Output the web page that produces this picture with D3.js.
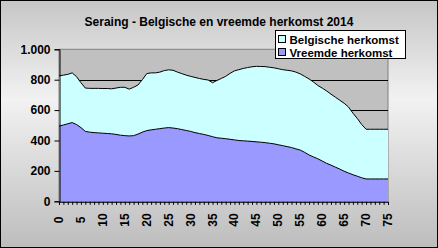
<!DOCTYPE html>
<html>
<head>
<meta charset="utf-8">
<script src="https://cdn.jsdelivr.net/npm/d3@7"></script>
<style>
  body { margin: 0; }
  svg { display: block; font-family: "Liberation Sans", Arial, sans-serif; }
</style>
</head>
<body>
<div id="chart"></div>
<script>
// Age categories 0..75
const ages = d3.range(0, 76);

// Foreign origin (bottom series)
const vreemde = [
  495, 502, 510, 518, 505, 485, 460, 455, 452, 450,
  448, 446, 444, 440, 435, 432, 430, 432, 442, 455,
  465, 470, 474, 478, 482, 485, 482, 478, 472, 466,
  460, 452, 446, 440, 433, 425, 418, 415, 412, 408,
  404, 400, 398, 396, 394, 391, 389, 386, 382, 378,
  372, 366, 360, 354, 345, 337, 322, 305, 292, 280,
  265, 250, 238, 225, 212, 198, 186, 175, 165, 155,
  147, 147, 147, 147, 147, 147
];

// Belgian origin (stacked on top)
const belgische = [
  330, 328, 325, 327, 315, 295, 285, 288, 291, 293,
  294, 296, 296, 305, 315, 318, 308, 318, 323, 345,
  375, 375, 371, 372, 378, 380, 380, 372, 368, 364,
  362, 363, 362, 362, 365, 355, 377, 393, 410, 434,
  454, 466, 476, 484, 491, 497, 498, 500, 500, 500,
  500, 500, 502, 504, 505, 501, 500, 500, 493, 482,
  480, 476, 467, 460, 453, 447, 434, 405, 380, 350,
  327, 327, 327, 327, 327, 327
];

const yTicks = [0, 200, 400, 600, 800, 1000];
const xLabels = d3.range(0, 76, 5);

const seriesNames = ["Belgische herkomst", "Vreemde herkomst"];
const colors = { "Belgische herkomst": "#CCFFFF", "Vreemde herkomst": "#9999FF" };

const width = 438, height = 248;
const plot = { left: 59, right: 388, top: 49.3, bottom: 201.3 };

const svg = d3.select("#chart").append("svg")
  .attr("width", width)
  .attr("height", height);

// Background gradient
const grad = svg.append("defs").append("linearGradient")
  .attr("id", "bg").attr("x1", 0).attr("y1", 0).attr("x2", 0).attr("y2", 1);
grad.append("stop").attr("offset", "0%").attr("stop-color", "#c6c6c6");
grad.append("stop").attr("offset", "40%").attr("stop-color", "#f2f2f2");
grad.append("stop").attr("offset", "100%").attr("stop-color", "#bdbdbd");

svg.append("rect")
  .attr("x", 0.5).attr("y", 0.5)
  .attr("width", width - 1).attr("height", height - 1)
  .attr("fill", "url(#bg)")
  .attr("stroke", "#000");

const x = d3.scaleLinear().domain([0, 75]).range([plot.left, plot.right]);
const y = d3.scaleLinear().domain([0, 1000]).range([plot.bottom, plot.top]);

// Plot area
svg.append("rect")
  .attr("x", plot.left).attr("y", plot.top)
  .attr("width", plot.right - plot.left).attr("height", plot.bottom - plot.top)
  .attr("fill", "#c0c0c0")
  .attr("stroke", "#808080");

// Gridlines
svg.append("g").selectAll("line")
  .data(yTicks.filter(d => d > 0 && d < 1000))
  .join("line")
  .attr("x1", plot.left).attr("x2", plot.right)
  .attr("y1", d => Math.round(y(d)) + 0.5).attr("y2", d => Math.round(y(d)) + 0.5)
  .attr("stroke", "#000");

// Stacked areas
const rows = ages.map((a, i) => ({
  age: a,
  "Vreemde herkomst": vreemde[i],
  "Belgische herkomst": belgische[i]
}));
const stack = d3.stack().keys(["Vreemde herkomst", "Belgische herkomst"]);
const layers = stack(rows);

const area = d3.area()
  .x(d => x(d.data.age))
  .y0(d => y(d[0]))
  .y1(d => y(d[1]));
const topLine = d3.line()
  .x(d => x(d.data.age))
  .y(d => y(d[1]));

svg.append("g").selectAll("path")
  .data(layers)
  .join("path")
  .attr("d", area)
  .attr("fill", d => colors[d.key]);

svg.append("g").selectAll("path")
  .data(layers)
  .join("path")
  .attr("d", topLine)
  .attr("fill", "none")
  .attr("stroke", "#000")
  .attr("stroke-width", 1);

// Y axis
const yAxis = svg.append("g")
  .attr("transform", `translate(${plot.left + 0.5},0)`)
  .call(d3.axisLeft(y).tickValues(yTicks).tickSize(5).tickPadding(4)
    .tickFormat(d => d3.format(",")(d).replace(",", ".")));
yAxis.select(".domain").attr("stroke", "#000");
yAxis.selectAll("text")
  .attr("font-size", 12).attr("font-weight", "bold").attr("fill", "#000")
  .attr("font-family", "Liberation Sans, Arial, sans-serif");

// X axis
const xAxis = svg.append("g")
  .attr("transform", `translate(0,${plot.bottom + 0.5})`)
  .call(d3.axisBottom(x).tickValues(ages).tickSize(3).tickFormat(""));
xAxis.select(".domain").attr("stroke", "#000");

svg.append("g").selectAll("text")
  .data(xLabels)
  .join("text")
  .attr("transform", d => `translate(${x(d) + 4},220) rotate(-90)`)
  .attr("text-anchor", "middle")
  .attr("font-size", 12)
  .attr("font-weight", "bold")
  .text(d => d);

// Title
svg.append("text")
  .attr("x", 219).attr("y", 26)
  .attr("text-anchor", "middle")
  .attr("font-size", 12)
  .attr("font-weight", "bold")
  .text("Seraing - Belgische en vreemde herkomst 2014");

// Legend
const legend = svg.append("g").attr("transform", "translate(275.5,30.5)");
legend.append("rect")
  .attr("width", 130).attr("height", 28)
  .attr("fill", "#fff").attr("stroke", "#000");
const items = legend.selectAll("g.item")
  .data(seriesNames)
  .join("g")
  .attr("transform", (d, i) => `translate(3,${4 + i * 13})`);
items.append("rect")
  .attr("width", 7).attr("height", 7).attr("y", 1)
  .attr("fill", d => colors[d]).attr("stroke", "#000");
items.append("text")
  .attr("x", 11).attr("y", 9)
  .attr("font-size", 11.5)
  .attr("font-weight", "bold")
  .text(d => d);
</script>
</body>
</html>
